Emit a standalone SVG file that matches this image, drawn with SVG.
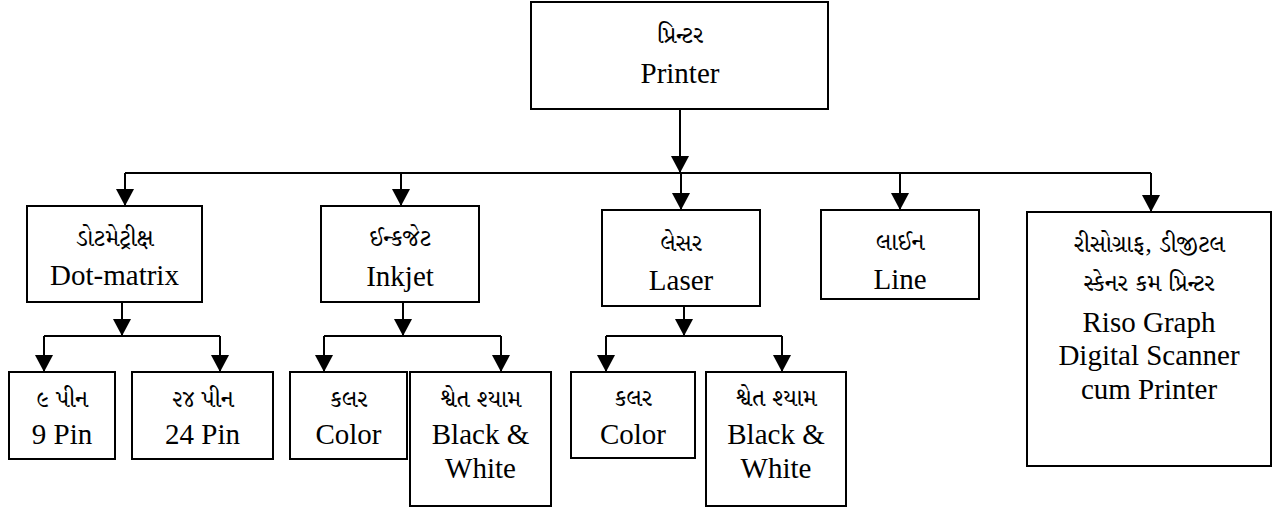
<svg xmlns="http://www.w3.org/2000/svg" width="1279" height="510" viewBox="0 0 1279 510">
  <defs>
    <marker id="arrow" markerUnits="userSpaceOnUse" markerWidth="20" markerHeight="18" refX="17" refY="9" orient="auto">
      <path d="M0,0 L17,9 L0,18 Z" fill="#000"/>
    </marker>
    <style>
      .box { fill: #fff; stroke: #000; stroke-width: 2; }
      .wire { fill: none; stroke: #000; stroke-width: 2; }
      .arr { fill: none; stroke: #000; stroke-width: 2; marker-end: url(#arrow); }
      text { text-anchor: middle; fill: #000; }
      .en { font-size: 29px; font-family: "Liberation Serif", "Times New Roman", serif; }
      .gu { font-size: 24px; font-family: "Noto Serif Gujarati", "Noto Sans Gujarati", "Liberation Serif", serif; }
    </style>
  </defs>

  <rect width="1279" height="510" fill="#fff"/>

  <!-- connectors: trunk, branch bus, and the three sub-branches -->
  <g id="connectors">
    <path class="arr" d="M680,109 V173"/>
    <path class="wire" d="M125,173 H1151"/>
    <path class="arr" d="M125,173 V206"/>
    <path class="arr" d="M401,173 V206"/>
    <path class="arr" d="M681,173 V210"/>
    <path class="arr" d="M900,173 V210"/>
    <path class="arr" d="M1151,173 V212"/>

    <path class="arr" d="M122,302 V336"/>
    <path class="wire" d="M44,336 H220"/>
    <path class="arr" d="M44,336 V372"/>
    <path class="arr" d="M220,336 V372"/>

    <path class="arr" d="M403,302 V336"/>
    <path class="wire" d="M324,336 H501"/>
    <path class="arr" d="M324,336 V372"/>
    <path class="arr" d="M501,336 V372"/>

    <path class="arr" d="M684,306 V336"/>
    <path class="wire" d="M606,336 H782"/>
    <path class="arr" d="M606,336 V372"/>
    <path class="arr" d="M782,336 V372"/>
  </g>

  <g id="printer">
    <rect class="box" x="531" y="2" width="297" height="107"/>
    <text class="gu" x="680" y="43">પ્રિન્ટર</text>
    <text class="en" x="680" y="83">Printer</text>
  </g>

  <g id="dotmatrix">
    <rect class="box" x="27" y="206" width="175" height="96"/>
    <text class="gu" x="114.5" y="246">ડોટમેટ્રીક્ષ</text>
    <text class="en" x="114.5" y="285">Dot-matrix</text>
  </g>

  <g id="inkjet">
    <rect class="box" x="321" y="206" width="158" height="96"/>
    <text class="gu" x="400" y="246">ઈન્કજેટ</text>
    <text class="en" x="400" y="286">Inkjet</text>
  </g>

  <g id="laser">
    <rect class="box" x="602" y="210" width="158" height="96"/>
    <text class="gu" x="681" y="251">લેસર</text>
    <text class="en" x="681" y="290">Laser</text>
  </g>

  <g id="line">
    <rect class="box" x="821" y="210" width="158" height="89"/>
    <text class="gu" x="900" y="250">લાઈન</text>
    <text class="en" x="900" y="289">Line</text>
  </g>

  <g id="riso">
    <rect class="box" x="1027" y="212" width="244" height="254"/>
    <text class="gu" x="1149" y="252">રીસોગ્રાફ, ડીજીટલ</text>
    <text class="gu" x="1149" y="291">સ્કેનર કમ પ્રિન્ટર</text>
    <text class="en" x="1149" y="332">Riso Graph</text>
    <text class="en" x="1149" y="365">Digital Scanner</text>
    <text class="en" x="1149" y="399">cum Printer</text>
  </g>

  <g id="pin9">
    <rect class="box" x="9" y="372" width="106" height="87"/>
    <text class="gu" x="62" y="407">૯ પીન</text>
    <text class="en" x="62" y="444">9 Pin</text>
  </g>

  <g id="pin24">
    <rect class="box" x="132" y="372" width="141" height="87"/>
    <text class="gu" x="202.5" y="407">૨૪ પીન</text>
    <text class="en" x="202.5" y="444">24 Pin</text>
  </g>

  <g id="inkjet-color">
    <rect class="box" x="290" y="372" width="117" height="87"/>
    <text class="gu" x="348.5" y="407">કલર</text>
    <text class="en" x="348.5" y="444">Color</text>
  </g>

  <g id="inkjet-bw">
    <rect class="box" x="410" y="372" width="141" height="134"/>
    <text class="gu" x="480.5" y="407">શ્વેત શ્યામ</text>
    <text class="en" x="480.5" y="444">Black &amp;</text>
    <text class="en" x="480.5" y="478">White</text>
  </g>

  <g id="laser-color">
    <rect class="box" x="571" y="372" width="124" height="86"/>
    <text class="gu" x="633" y="406">કલર</text>
    <text class="en" x="633" y="444">Color</text>
  </g>

  <g id="laser-bw">
    <rect class="box" x="706" y="372" width="140" height="134"/>
    <text class="gu" x="776" y="406">શ્વેત શ્યામ</text>
    <text class="en" x="776" y="444">Black &amp;</text>
    <text class="en" x="776" y="478">White</text>
  </g>
</svg>
